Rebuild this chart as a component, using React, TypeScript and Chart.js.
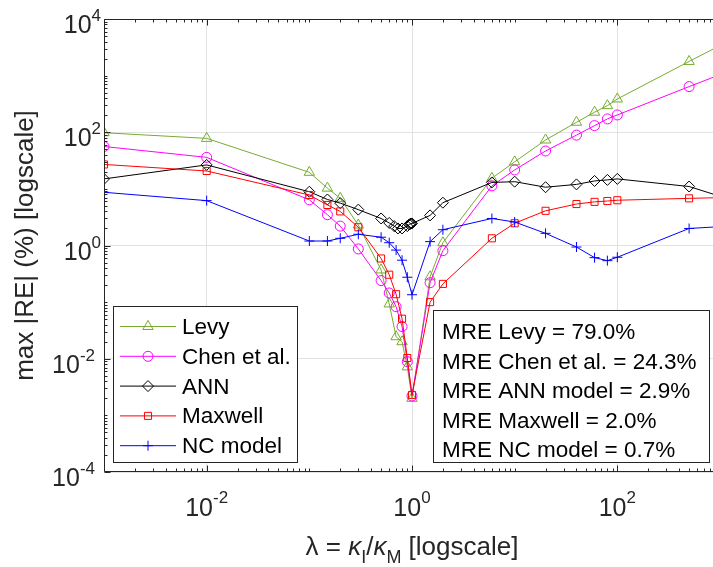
import React, { useEffect, useRef } from 'react';
import { Chart, registerables } from 'chart.js';
import { drawPoint } from 'chart.js/helpers';

Chart.register(...registerables);

// ---------------- data ----------------
const LAMBDA = [0.001, 0.01, 0.1, 0.15, 0.2, 0.3, 0.5, 0.6, 0.7, 0.8, 0.9, 1, 1.5, 2, 6, 10, 20, 40, 60, 80, 100, 500, 1000];
const LAMBDA_ANN = [0.001, 0.01, 0.1, 0.15, 0.2, 0.3, 0.5, 0.6, 0.67, 0.73, 0.8, 0.9, 0.94, 0.96, 0.98, 1, 1.5, 2, 6, 10, 20, 40, 60, 80, 100, 500, 1000];

const LEVY = [98, 78, 19.6, 10.3, 6.8, 2.3, 0.37, 0.093, 0.0245, 0.02, 0.0072, 0.002, 0.28, 1.12, 15.4, 30, 73, 150, 226, 295, 387, 1780, 3400];
const CHEN = [56, 36, 6.4, 3.5, 2.2, 0.87, 0.24, 0.145, 0.083, 0.037, 0.0089, 0.0022, 0.22, 0.81, 11.3, 21.6, 46.7, 89, 131, 172, 202, 640, 1040];
const ANN = [15, 26.5, 8.9, 6.5, 5.6, 4.3, 3.0, 2.5, 2.2, 2.0, 2.0, 2.2, 2.35, 2.4, 2.45, 2.45, 3.4, 5.7, 13, 13.4, 10.7, 12, 13.8, 14.4, 15, 11, 7.4];
const MAXWELL = [27, 20.7, 7.8, 5.2, 4.0, 2.1, 0.59, 0.305, 0.138, 0.051, 0.0103, 0.0023, 0.10, 0.21, 1.34, 2.47, 4.1, 5.4, 5.9, 6.1, 6.3, 6.8, 7.0];
const NC = [8.7, 6.2, 1.2, 1.2, 1.34, 1.58, 1.4, 1.12, 0.83, 0.55, 0.275, 0.135, 1.17, 1.9, 3.0, 2.6, 1.64, 0.94, 0.61, 0.54, 0.62, 2.0, 2.15];

const SERIES_NAMES = ['Levy', 'Chen et al.', 'ANN', 'Maxwell', 'NC model'];
const MRE_LINES = [
  'MRE Levy = 79.0%',
  'MRE Chen et al. = 24.3%',
  'MRE ANN model = 2.9%',
  'MRE Maxwell = 2.0%',
  'MRE NC model = 0.7%',
];
const Y_TITLE = 'max |RE| (%) [logscale]';
const X_TITLE_PARTS = [
  { t: 'λ = ', sub: false, it: false },
  { t: 'κ', sub: false, it: true },
  { t: 'I', sub: true, it: false },
  { t: '/', sub: false, it: false },
  { t: 'κ', sub: false, it: true },
  { t: 'M', sub: true, it: false },
  { t: ' [logscale]', sub: false, it: false },
];
const X_EXP_RANGE = [-3, 3];
const Y_EXP_RANGE = [-4, 4];

// ---------------- helpers ----------------
function logTicks(lo: number, hi: number): number[] {
  const out: number[] = [];
  for (let n = lo; n < hi; n++) {
    for (let m = 1; m <= 9; m++) out.push(parseFloat((m * Math.pow(10, n)).toPrecision(6)));
  }
  out.push(Math.pow(10, hi));
  return out;
}
const X_TICKS = logTicks(X_EXP_RANGE[0], X_EXP_RANGE[1]);
const Y_TICKS = logTicks(Y_EXP_RANGE[0], Y_EXP_RANGE[1]);

function isPow10(v: number) {
  const l = Math.log10(v);
  return Math.abs(l - Math.round(l)) < 1e-6;
}
function isEvenPow(v: number) {
  return isPow10(v) && Math.abs(Math.round(Math.log10(v)) % 2) === 0;
}

const FONT = "'Liberation Sans', Arial, Helvetica, sans-serif";
const AXIS = '#262626';
const GRID = '#e2e2e2';

const matlabPlugin = {
  id: 'matlabDecor',
  afterDraw(chart: any) {
    const ctx: CanvasRenderingContext2D = chart.ctx;
    const { left, right, top, bottom } = chart.chartArea;
    const xs = chart.scales.x;
    const ys = chart.scales.y;
    ctx.save();

    // axes box lines
    const L = Math.round(left) + 0.5;
    const R = Math.round(right) - 0.5;
    const T = Math.round(top) + 0.5;
    const B = Math.round(bottom) - 0.5;
    ctx.strokeStyle = AXIS;
    ctx.lineWidth = 1;
    ctx.beginPath();
    ctx.moveTo(L, T); ctx.lineTo(R, T);
    ctx.moveTo(L, B); ctx.lineTo(R, B);
    ctx.moveTo(L, T); ctx.lineTo(L, B);
    ctx.moveTo(R, T); ctx.lineTo(R, B);
    ctx.stroke();

    // inward ticks
    ctx.beginPath();
    for (const t of xs.ticks) {
      const px = Math.round(xs.getPixelForValue(t.value)) + 0.5;
      const len = isEvenPow(t.value) ? 6 : 3;
      ctx.moveTo(px, B); ctx.lineTo(px, B - len);
      ctx.moveTo(px, T); ctx.lineTo(px, T + len);
    }
    for (const t of ys.ticks) {
      const py = Math.round(ys.getPixelForValue(t.value)) + 0.5;
      const len = isEvenPow(t.value) ? 6 : 3;
      ctx.moveTo(L, py); ctx.lineTo(L + len, py);
      ctx.moveTo(R, py); ctx.lineTo(R - len, py);
    }
    ctx.stroke();

    // tick labels 10^n
    ctx.fillStyle = AXIS;
    ctx.textBaseline = 'alphabetic';
    ctx.textAlign = 'left';
    const baseFont = `25px ${FONT}`;
    const expFont = `17px ${FONT}`;
    for (const t of xs.ticks) {
      if (!isEvenPow(t.value)) continue;
      const e = Math.round(Math.log10(t.value));
      const px = xs.getPixelForValue(t.value);
      ctx.font = baseFont;
      const wb = ctx.measureText('10').width;
      ctx.font = expFont;
      const we = ctx.measureText(String(e)).width;
      const x0 = px - (wb + we) / 2;
      ctx.font = baseFont;
      ctx.fillText('10', x0, bottom + 43.5);
      ctx.font = expFont;
      ctx.fillText(String(e), x0 + wb, bottom + 31);
    }
    for (const t of ys.ticks) {
      if (!isEvenPow(t.value)) continue;
      const e = Math.round(Math.log10(t.value));
      const py = ys.getPixelForValue(t.value);
      ctx.font = baseFont;
      const wb = ctx.measureText('10').width;
      ctx.font = expFont;
      const we = ctx.measureText(String(e)).width;
      const rightEdge = left - (e < 0 ? 9 : 3);
      const x0 = rightEdge - wb - we;
      ctx.font = baseFont;
      ctx.fillText('10', x0, py + 14);
      ctx.font = expFont;
      ctx.fillText(String(e), x0 + wb, py + 2);
    }

    // x title
    const fontFor = (p: any) => `${p.it ? 'italic ' : ''}${p.sub ? 18 : 26}px ${FONT}`;
    let total = 0;
    const widths = X_TITLE_PARTS.map((p) => {
      ctx.font = fontFor(p);
      const w = ctx.measureText(p.t).width;
      total += w;
      return w;
    });
    let cx = (left + right) / 2 - total / 2;
    X_TITLE_PARTS.forEach((p, i) => {
      ctx.font = fontFor(p);
      ctx.fillText(p.t, cx, bottom + (p.sub ? 91 : 83));
      cx += widths[i];
    });

    // y title
    ctx.save();
    ctx.translate(32.5, (top + bottom) / 2);
    ctx.rotate(-Math.PI / 2);
    ctx.textAlign = 'center';
    ctx.font = `26px ${FONT}`;
    ctx.fillText(Y_TITLE, 0, 0);
    ctx.restore();

    // legend box
    const LG = { x0: 113, y0: 306, x1: 297, y1: 462, row0: 326, step: 29.8, lx0: 120, lx1: 176, mx: 148, tx: 182 };
    ctx.fillStyle = '#ffffff';
    ctx.fillRect(LG.x0, LG.y0, LG.x1 - LG.x0, LG.y1 - LG.y0);
    ctx.strokeStyle = AXIS;
    ctx.lineWidth = 1;
    ctx.strokeRect(LG.x0 + 0.5, LG.y0 + 0.5, LG.x1 - LG.x0, LG.y1 - LG.y0);
    chart.data.datasets.forEach((ds: any, i: number) => {
      const y = LG.row0 + i * LG.step;
      ctx.strokeStyle = ds.borderColor;
      ctx.lineWidth = 1;
      ctx.beginPath();
      ctx.moveTo(LG.lx0, y + 0.5);
      ctx.lineTo(LG.lx1, y + 0.5);
      ctx.stroke();
      ctx.fillStyle = 'rgba(0,0,0,0)';
      drawPoint(ctx, { pointStyle: ds.pointStyle, radius: ds.pointRadius, borderWidth: 1, rotation: 0 } as any, LG.mx, y + 0.5);
      ctx.fillStyle = '#000000';
      ctx.font = `22.5px ${FONT}`;
      ctx.textAlign = 'left';
      ctx.fillText(ds.label, LG.tx, y + 8);
    });

    // MRE box
    const MB = { x0: 433, y0: 310, x1: 709, y1: 462, base0: 339, step: 29.5, tx: 442 };
    ctx.fillStyle = '#ffffff';
    ctx.fillRect(MB.x0, MB.y0, MB.x1 - MB.x0, MB.y1 - MB.y0);
    ctx.strokeStyle = AXIS;
    ctx.strokeRect(MB.x0 + 0.5, MB.y0 + 0.5, MB.x1 - MB.x0, MB.y1 - MB.y0);
    ctx.fillStyle = '#000000';
    ctx.font = `22.5px ${FONT}`;
    MRE_LINES.forEach((s, i) => {
      ctx.fillText(s, MB.tx, MB.base0 + i * MB.step);
    });

    ctx.restore();
  },
};

function makeSeries(label: string, xs: number[], ys: number[], color: string, style: string, radius: number, order: number) {
  return {
    label,
    data: xs.map((x, i) => ({ x, y: ys[i] })),
    borderColor: color,
    backgroundColor: 'rgba(0,0,0,0)',
    borderWidth: 1,
    pointStyle: style,
    pointRadius: radius,
    pointBorderWidth: 1,
    pointBorderColor: color,
    pointBackgroundColor: 'rgba(0,0,0,0)',
    tension: 0,
    order,
  };
}

export default function App() {
  const ref = useRef<HTMLCanvasElement | null>(null);
  useEffect(() => {
    if (!ref.current) return;
    const gridColor = (c: any) => (c.tick && isEvenPow(c.tick.value) ? GRID : 'rgba(0,0,0,0)');
    const chart = new Chart(ref.current, {
      type: 'line',
      data: {
        datasets: [
          makeSeries(SERIES_NAMES[0], LAMBDA, LEVY, '#77AC30', 'triangle', 6, 4),
          makeSeries(SERIES_NAMES[1], LAMBDA, CHEN, '#FF00FF', 'circle', 5, 3),
          makeSeries(SERIES_NAMES[2], LAMBDA_ANN, ANN, '#000000', 'rectRot', 5.5, 2),
          makeSeries(SERIES_NAMES[3], LAMBDA, MAXWELL, '#FF0000', 'rect', 5, 1),
          makeSeries(SERIES_NAMES[4], LAMBDA, NC, '#0000FF', 'cross', 5, 0),
        ] as any,
      },
      options: {
        responsive: false,
        animation: false,
        devicePixelRatio: 1,
        layout: { autoPadding: false, padding: { left: 104, top: 19, right: 0, bottom: 95 } },
        plugins: { legend: { display: false }, tooltip: { enabled: false } },
        scales: {
          x: {
            type: 'logarithmic',
            min: Math.pow(10, X_EXP_RANGE[0]),
            max: Math.pow(10, X_EXP_RANGE[1]),
            afterBuildTicks: (s: any) => { s.ticks = X_TICKS.map((v) => ({ value: v })); },
            ticks: { display: false },
            grid: { drawTicks: false, color: gridColor, lineWidth: 1 },
            border: { display: false },
          },
          y: {
            type: 'logarithmic',
            min: Math.pow(10, Y_EXP_RANGE[0]),
            max: Math.pow(10, Y_EXP_RANGE[1]),
            afterBuildTicks: (s: any) => { s.ticks = Y_TICKS.map((v) => ({ value: v })); },
            ticks: { display: false },
            grid: { drawTicks: false, color: gridColor, lineWidth: 1 },
            border: { display: false },
          },
        },
      } as any,
      plugins: [matlabPlugin],
    });
    return () => chart.destroy();
  }, []);
  return (
    <div style={{ position: 'fixed', left: 0, top: 0, width: 713, height: 567, overflow: 'hidden', background: '#ffffff' }}>
      <canvas ref={ref} width={720} height={567} style={{ display: 'block' }} />
    </div>
  );
}
